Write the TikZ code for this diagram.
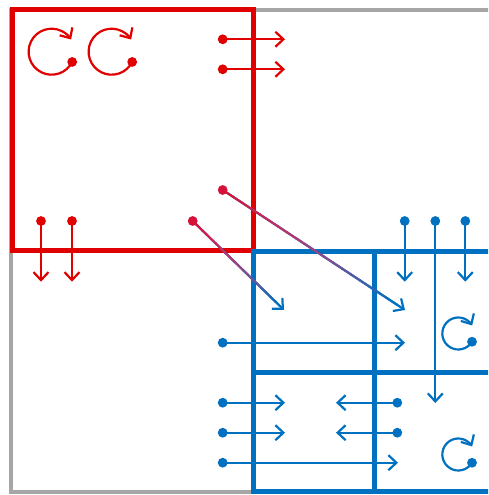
\documentclass[tikz,border=0pt]{standalone}
\usepackage{tikz}
\usetikzlibrary{arrows.meta,calc}
\definecolor{lred}{RGB}{224,0,0}
\definecolor{lblue}{RGB}{0,112,192}
\definecolor{lgray}{RGB}{166,166,166}
\definecolor{lcrimson}{RGB}{214,18,58}
\tikzset{
  frame/.style={line width=5pt},
  flow/.style={line width=2.2pt,-{Straight Barb[length=8pt,width=15pt]}},
  knob/.style={radius=4.9},
}
\begin{document}
\begin{tikzpicture}[x=1pt,y=-1pt]
\useasboundingbox (0,0) rectangle (488,495);
\begin{scope}
\clip (0,0) rectangle (488,495);

% frames
\draw[lgray,line width=4.5pt] (11,10) rectangle (494,492);
\draw[lred,frame] (12,9.5) rectangle (253,250.5);
\draw[lblue,frame] (253,251) rectangle (494,491.5);
\draw[lblue,frame] (374.5,251) -- (374.5,491.5);
\draw[lblue,frame] (253,372) -- (494,372);

% red rotations
\coordinate (rot1) at (51.6,51.7);
\coordinate (rot2) at (111.6,51.7);
\foreach \c in {rot1,rot2}{
  \draw[lred,flow] ($(\c)+(26.5:23)$) arc[start angle=26.5,end angle=328,radius=23];
  \fill[lred] ($(\c)+(26.5:23)$) circle[knob];
}

% red flows
\coordinate (ra) at (222.7,39.3);  \coordinate (ra') at (285,39.3);
\coordinate (rb) at (222.7,69.3);  \coordinate (rb') at (285,69.3);
\coordinate (rc) at (41,221);      \coordinate (rc') at (41,281.7);
\coordinate (rd) at (72,221);      \coordinate (rd') at (72,281.7);
\foreach \s in {ra,rb,rc,rd}{
  \draw[lred,flow] (\s) -- (\s');
  \fill[lred] (\s) circle[knob];
}

% red to blue
\coordinate (xa) at (222.7,190);   \coordinate (xa') at (405,310);
\coordinate (xb) at (192.7,221);   \coordinate (xb') at (284,310);
\foreach \s in {xa,xb}{
  \draw[lblue,flow] (\s) -- (\s');
  \foreach \i in {0,...,18}{
    \pgfmathtruncatemacro\cr{214*(1-(\i/18)^2)}
    \pgfmathtruncatemacro\cg{18+94*\i/18}
    \pgfmathtruncatemacro\cb{58+134*\i/18}
    \definecolor{seg}{RGB}{\cr,\cg,\cb}
    \draw[seg,line width=2.1pt] ($(\s)!\i/20!(\s')$) -- ($(\s)!\i/20+0.06!(\s')$);
  }
  \fill[lcrimson] (\s) circle[knob];
}

% blue flows
\coordinate (ba) at (404.7,221);   \coordinate (ba') at (404.7,281.7);
\coordinate (bb) at (465.3,221);   \coordinate (bb') at (465.3,281.7);
\coordinate (bc) at (435.3,221);   \coordinate (bc') at (435.3,403);
\coordinate (bd) at (222.7,342.7); \coordinate (bd') at (405,342.7);
\coordinate (be) at (222.7,402.7); \coordinate (be') at (285,402.7);
\coordinate (bf) at (222.7,432.7); \coordinate (bf') at (285,432.7);
\coordinate (bg) at (222.7,462.7); \coordinate (bg') at (398,462.7);
\coordinate (bh) at (397.3,402.7); \coordinate (bh') at (336,402.7);
\coordinate (bi) at (397.3,432.7); \coordinate (bi') at (336,432.7);
\foreach \s in {ba,bb,bc,bd,be,bf,bg,bh,bi}{
  \draw[lblue,flow] (\s) -- (\s');
  \fill[lblue] (\s) circle[knob];
}

% blue rotations
\coordinate (rot3) at (458.3,333.5);
\coordinate (rot4) at (458.3,454.5);
\foreach \c in {rot3,rot4}{
  \draw[lblue,flow] ($(\c)+(31:16)$) arc[start angle=31,end angle=330,radius=16];
  \fill[lblue] ($(\c)+(31:16)$) circle[knob];
}
\end{scope}
\end{tikzpicture}
\end{document}
